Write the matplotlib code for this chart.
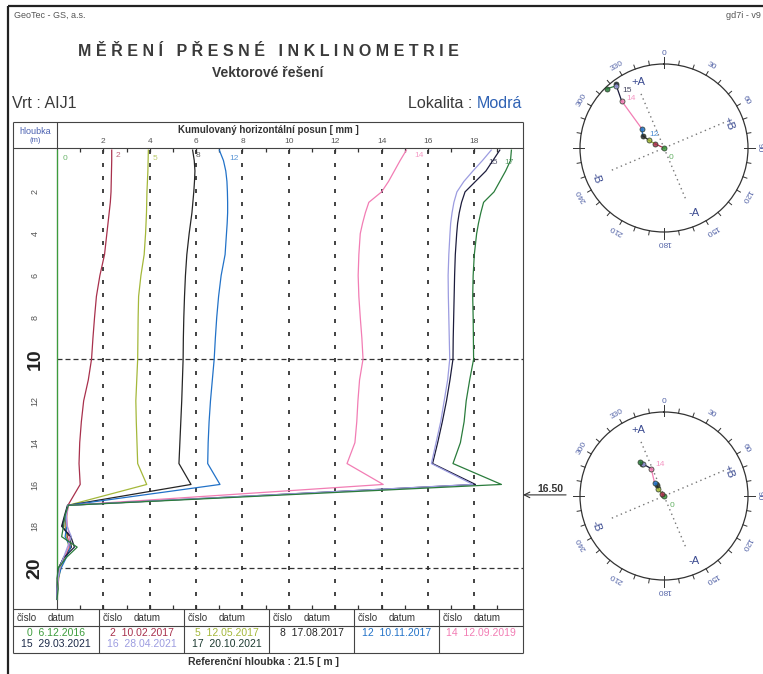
import numpy as np
import matplotlib.pyplot as plt
import matplotlib.transforms as mtransforms

plt.rcParams['font.family'] = ['Liberation Sans', 'DejaVu Sans']

# hloubky mereni [m]
DEPTH = [0, 0.5, 1, 1.5, 2, 2.5, 3, 3.5, 4, 5, 6, 7, 8, 9, 10, 11, 12, 13, 14, 15, 16,
         17, 17.5, 18, 18.5, 19, 19.5, 20, 20.5, 21, 21.5]

SERIES = ["0", "2", "5", "8", "12", "14", "15", "16", "17"]
DATES = ["6.12.2016", "10.02.2017", "12.05.2017", "17.08.2017", "10.11.2017",
         "12.09.2019", "29.03.2021", "28.04.2021", "20.10.2021"]
COLORS = ["#3c9c3c", "#a8304c", "#a4b83a", "#262626", "#2272c8", "#f27db4",
          "#1c1c3c", "#9c9ce0", "#2a7c3c"]

# kumulovany horizontalni posun [mm]
posun_0 = [0, 0, 0, 0, 0, 0, 0, 0, 0, 0, 0, 0, 0, 0, 0, 0, 0, 0, 0, 0, 0,
           0, 0, 0, 0, 0, 0, 0, 0, 0, 0]
posun_2 = [2.36, 2.36, 2.35, 2.34, 2.33, 2.30, 2.25, 2.20, 2.15, 2.05, 1.85, 1.70, 1.62,
           1.55, 1.49, 1.35, 1.15, 1.05, 0.98, 0.95, 1.00,
           0.47, 0.40, 0.35, 0.45, 0.55, 0.30, 0.15, 0.05, 0.02, 0.00]
posun_5 = [3.94, 3.93, 3.92, 3.90, 3.88, 3.87, 3.86, 3.84, 3.82, 3.76, 3.62, 3.52, 3.50,
           3.49, 3.48, 3.44, 3.40, 3.42, 3.45, 3.48, 3.87,
           0.47, 0.42, 0.38, 0.40, 0.52, 0.35, 0.15, 0.08, 0.02, 0.00]
posun_8 = [5.85, 5.92, 5.95, 5.93, 5.90, 5.86, 5.82, 5.76, 5.70, 5.60, 5.54, 5.50, 5.47,
           5.45, 5.44, 5.41, 5.38, 5.34, 5.30, 5.26, 5.78,
           0.47, 0.35, 0.22, 0.55, 0.62, 0.28, 0.08, 0.03, 0.00, 0.00]
posun_12 = [7.00, 7.18, 7.28, 7.33, 7.35, 7.36, 7.36, 7.34, 7.31, 7.25, 7.08, 6.97, 6.89,
            6.83, 6.78, 6.70, 6.62, 6.56, 6.52, 6.50, 7.03,
            0.47, 0.38, 0.42, 0.35, 0.58, 0.40, 0.18, 0.05, 0.02, 0.00]
posun_14 = [15.07, 14.80, 14.55, 14.30, 14.00, 13.45, 13.30, 13.18, 13.08, 13.02, 12.99,
            13.02, 13.08, 13.15, 13.20, 13.05, 12.98, 12.93, 12.85, 12.51, 14.07,
            0.50, 0.42, 0.45, 0.55, 0.50, 0.32, 0.12, 0.05, 0.02, 0.00]
posun_15 = [19.10, 18.80, 18.50, 18.05, 17.60, 17.45, 17.35, 17.28, 17.24, 17.18, 17.15,
            17.13, 17.11, 17.09, 17.08, 16.95, 16.80, 16.62, 16.42, 16.20, 18.05,
            0.45, 0.32, 0.20, 0.60, 0.75, 0.30, 0.06, 0.02, 0.00, 0.00]
posun_16 = [18.73, 18.35, 17.94, 17.55, 17.25, 17.12, 17.04, 16.98, 16.95, 16.90, 16.87,
            16.88, 16.90, 16.92, 16.94, 16.85, 16.70, 16.55, 16.35, 16.15, 17.94,
            0.47, 0.40, 0.43, 0.62, 0.45, 0.28, 0.10, 0.04, 0.00, 0.00]
posun_17 = [19.60, 19.56, 19.35, 19.10, 18.85, 18.40, 18.28, 18.18, 18.10, 18.00, 17.95,
            17.93, 17.95, 17.96, 17.97, 17.80, 17.65, 17.56, 17.40, 17.08, 19.17,
            0.49, 0.34, 0.28, 0.20, 0.87, 0.40, 0.06, 0.00, 0.05, 0.00]
POSUN = [posun_0, posun_2, posun_5, posun_8, posun_12, posun_14, posun_15, posun_16, posun_17]

# vektory - smer [deg] a velikost [mm]
AZ_TOP = [0, 295, 297, 300, 311, 318, 323, 322, 316]
R_TOP = [0.0, 2.36, 3.94, 5.85, 7.00, 15.07, 19.10, 18.73, 19.60]
AZ_165 = [0, 318, 322, 326, 324, 335, 326, 327, 325]
R_165 = [0.0, 0.8, 2.2, 3.1, 3.8, 7.2, 9.3, 9.2, 9.9]
AXIS_A = 337
AXIS_B = 67

XTICKS = [2, 4, 6, 8, 10, 12, 14, 16, 18]
XMINOR = [1, 3, 5, 7, 9, 11, 13, 15, 17, 19]
YTICKS = [2, 4, 6, 8, 10, 12, 14, 16, 18, 20]
YBIG = [10, 20]
REF_DEPTH = 16.5
COMPASS_LABELS = [0, 30, 60, 90, 120, 150, 180, 210, 240, 300, 330]

W, H = 763, 674
fig = plt.figure(figsize=(W / 100, H / 100), dpi=100)
fig.patch.set_facecolor('white')

# podklad v pixelech - ramecek, tabulka, texty
bg = fig.add_axes([0, 0, 1, 1])
bg.set_xlim(0, W)
bg.set_ylim(H, 0)
bg.axis('off')


def seg(x0, y0, x1, y1, lw=0.8, color='#444'):
    bg.plot([x0, x1], [y0, y1], color=color, lw=lw, solid_capstyle='butt')


# outer frame
seg(8, 6, W + 5, 6, lw=1.6, color='#222')
seg(8, 6, 8, H + 5, lw=1.6, color='#222')

# header boxes
seg(13, 122, 523, 122)
seg(13, 122, 13, 653)
seg(523, 122, 523, 148)
seg(57, 122, 57, 148)
seg(13, 148, 57, 148)
# legend table
cols = [13, 99, 184, 269, 354, 439, 523]
seg(13, 609, 523, 609)
seg(13, 626, 523, 626)
seg(13, 653, 523, 653)
seg(523, 609, 523, 653)
for c in cols[1:-1]:
    seg(c, 609, c, 653)

gray = '#3a3a3a'
bg.text(14, 15, "GeoTec - GS, a.s.", fontsize=6.5, color='#555', va='center')
bg.text(761, 15, "gd7i - v9", fontsize=6.5, color='#555', ha='right', va='center')
bg.text(268, 52, "M Ě Ř E N Í   P Ř E S N É   I N K L I N O M E T R I E",
        fontsize=11.5, fontweight='bold', color=gray, ha='center', va='center')
bg.text(268, 73, "Vektorové řešení", fontsize=10, fontweight='bold', color=gray,
        ha='center', va='center')
bg.text(12, 103, "Vrt : AIJ1", fontsize=11.5, color=gray, va='center')
t_mod = bg.text(522, 103, "Modrá", fontsize=11.5, color='#2f62b4', ha='right', va='center')
fig.canvas.draw()
bb = t_mod.get_window_extent()
x_mod = bg.transData.inverted().transform((bb.x0, bb.y0))[0]
bg.text(x_mod - 4, 103, "Lokalita :", fontsize=11.5, color=gray, ha='right', va='center')

bg.text(35, 131, "hloubka", fontsize=6.5, color='#4a60b0', ha='center', va='center')
bg.text(35, 140, "(m)", fontsize=5.5, color='#4a60b0', ha='center', va='center')
bg.text(268, 130, "Kumulovaný horizontální posun [ mm ]", fontsize=7, fontweight='bold',
        color='#333', ha='center', va='center')

for i in range(6):
    x0 = cols[i]
    bg.text(x0 + 4, 618, "číslo", fontsize=7, color='#333', va='center')
    bg.text(x0 + 35, 618, "datum", fontsize=7, color='#333', va='center')
    xc = (cols[i] + cols[i + 1]) / 2
    bg.text(xc, 633, f"{SERIES[i]}  {DATES[i]}",
            fontsize=7.5, color=COLORS[i], ha='center', va='center')
for i, k in enumerate([6, 7, 8]):
    xc = (cols[i] + cols[i + 1]) / 2
    bg.text(xc, 644, f"{SERIES[k]}  {DATES[k]}", fontsize=7.5,
            color=['#1c2a48', '#9c9ce0', '#1c3a30'][i], ha='center', va='center')

bg.text(263, 662, "Referenční hloubka : 21.5 [ m ]", fontsize=7.5, fontweight='bold',
        color='#333', ha='center', va='center')

# --- hlavni graf -------------------------------------------------------
PL, PR, PT, PB = 57, 523, 148, 609
ax = fig.add_axes([PL / W, 1 - PB / H, (PR - PL) / W, (PB - PT) / H])
ax.set_xlim(0, 20.1)
ax.set_ylim(21.96, -0.1)
ax.set_xticks(XTICKS)
ax.set_xticks(XMINOR, minor=True)
ax.set_xticklabels([str(v) for v in XTICKS])
ax.tick_params(axis='x', which='both', top=True, bottom=True, labeltop=True,
               labelbottom=False, direction='in', length=3, width=0.9, color='#333',
               labelsize=6, labelcolor='#555', pad=2)
ax.set_yticks([])
for s in ax.spines.values():
    s.set_color('#444')
    s.set_linewidth(0.8)

for v in XTICKS:
    ax.axvline(v, color='#222', lw=1.2, ls=(0, (2.4, 5.4)), zorder=1)
for d in YBIG:
    ax.axhline(d, color='#333', lw=0.9, ls=(0, (4, 2.4)), zorder=1)

for name, vals, col in zip(SERIES, POSUN, COLORS):
    ax.plot(vals, DEPTH, color=col, lw=0.9, zorder=3, clip_on=False)

lab_off = {"0": (4, -6), "2": (3, -4), "5": (3, -6), "8": (2, -4), "12": (7, -6),
           "14": (6, -4), "15": (-8, -9), "17": (-5, -9)}
for name, vals, col in zip(SERIES, POSUN, COLORS):
    if name in lab_off:
        ax.annotate(name, (vals[0], DEPTH[0]), xytext=lab_off[name],
                    textcoords='offset points', fontsize=6, color=col, alpha=0.75,
                    ha='left', va='center')

ytr = mtransforms.blended_transform_factory(ax.transAxes, ax.transData)
for d in YTICKS:
    if d in YBIG:
        ax.text(-0.047, d, str(d), transform=ytr, rotation=90, fontsize=14,
                fontweight='bold', color='#222', ha='center', va='center')
    else:
        ax.text(-0.047, d, str(d), transform=ytr, rotation=90, fontsize=6.5,
                color='#555', ha='center', va='center')

ax.annotate('', xy=(1.0, REF_DEPTH), xycoords=ytr, xytext=(31, 0),
            textcoords='offset points',
            arrowprops=dict(arrowstyle='->', color='#333', lw=0.8, shrinkA=0, shrinkB=0))
ax.annotate(f"{REF_DEPTH:.2f}", xy=(1.0, REF_DEPTH), xycoords=ytr, xytext=(10, 2),
            textcoords='offset points', fontsize=7.5, fontweight='bold', color='#333',
            ha='left', va='baseline')


# --- polarni grafy (vektory) ------------------------------------------
def compass(cx, cy, az, rr, labeled):
    rad = 84
    pa = fig.add_axes([(cx - rad) / W, 1 - (cy + rad) / H, 2 * rad / W, 2 * rad / H],
                      projection='polar')
    pa.set_theta_zero_location('N')
    pa.set_theta_direction(-1)
    pa.set_ylim(0, 20)
    pa.grid(False)
    pa.set_xticks([])
    pa.set_yticks([])
    pa.patch.set_alpha(0)
    pa.spines['polar'].set_color('#333')
    pa.spines['polar'].set_linewidth(0.9)
    for a in range(0, 360, 10):
        t = np.radians(a)
        r0, r1 = (19.0, 21.6) if a % 90 == 0 else (20, 21)
        pa.plot([t, t], [r0, r1], color='#333', lw=0.7, clip_on=False)
    for a in COMPASS_LABELS:
        pa.text(np.radians(a), 22.6, str(a), rotation=-a, rotation_mode='anchor',
                ha='center', va='center', fontsize=6, color='#5565a8')
    # osy A a B
    for a, r in [(AXIS_A, 14), (AXIS_A + 180, 13), (AXIS_B, 15.5), (AXIS_B + 180, 13.5)]:
        pa.plot([np.radians(a), 0], [r, 0], color='#777', lw=1.0, ls=(0, (1, 2.5)))
    pa.text(np.radians(AXIS_A + 2), 16.8, "+A", fontsize=8, color='#3a4a90',
            ha='center', va='center')
    pa.text(np.radians(AXIS_A + 178), 17.2, "-A", fontsize=8, color='#3a4a90',
            ha='center', va='center')
    pa.text(np.radians(AXIS_B + 2), 16.5, "+B", fontsize=8, color='#3a4a90',
            ha='center', va='center', rotation=-70)
    pa.text(np.radians(AXIS_B + 179), 17.6, "-B", fontsize=8, color='#3a4a90',
            ha='center', va='center', rotation=-70)
    th = np.radians(az)
    for i in range(1, len(az)):
        pa.plot([th[i - 1], th[i]], [rr[i - 1], rr[i]], color=COLORS[i], lw=0.9, zorder=3)
    for i in range(len(az)):
        pa.plot(th[i], rr[i], 'o', ms=3.6, mfc=COLORS[i], mec='#2a3a2a', mew=0.6,
                alpha=0.85, zorder=4, clip_on=False)
    for i, off in labeled:
        pa.annotate(SERIES[i], (th[i], rr[i]), xytext=off, textcoords='offset points',
                    fontsize=6, color=COLORS[i], alpha=0.8, ha='center', va='center')
    return pa


compass(664, 148, AZ_TOP, R_TOP, [(0, (5, -7)), (4, (9, -4)), (5, (7, 2)), (6, (8, -5))])
compass(664, 496, AZ_165, R_165, [(0, (6, -7)), (5, (6, 3))])

fig.savefig('out.png', dpi=100)
